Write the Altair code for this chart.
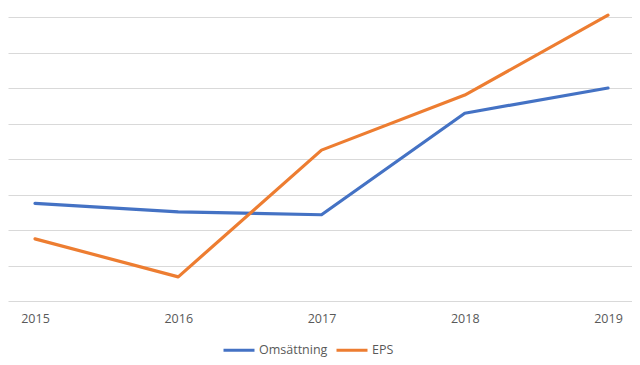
import altair as alt
import pandas as pd

years = [2015, 2016, 2017, 2018, 2019]
omsattning = [2.75, 2.51, 2.43, 5.29, 6.0]
eps = [1.75, 0.68, 4.25, 5.80, 8.05]
series_names = ["Omsättning", "EPS"]
series_colors = ["#4472C4", "#ED7D31"]
grid_values = [0, 1, 2, 3, 4, 5, 6, 7, 8]

df = pd.DataFrame({"year": years * 2,
                   "value": omsattning + eps,
                   "series": [series_names[0]] * 5 + [series_names[1]] * 5})

font = "Open Sans"

chart = alt.Chart(df).mark_line(strokeWidth=3.2, strokeCap="round", strokeJoin="round", clip=False).encode(
    x=alt.X("year:Q",
            scale=alt.Scale(domain=[2014.8115, 2019.1675], nice=False, zero=False),
            axis=alt.Axis(values=years, format="d", title=None, grid=False, ticks=False,
                          domain=False, labelColor="#595959", labelFont=font, labelFontSize=12.5,
                          labelPadding=11, labelOverlap=False, labelBound=False, labelFlush=False)),
    y=alt.Y("value:Q",
            scale=alt.Scale(domain=[0, 8], nice=False, zero=True),
            axis=alt.Axis(values=grid_values, labels=False, ticks=False, domain=False, title=None,
                          grid=True, gridColor="#D9D9D9", gridWidth=1)),
    color=alt.Color("series:N",
                    scale=alt.Scale(domain=series_names, range=series_colors),
                    legend=alt.Legend(title=None, orient="none", legendX=214, legendY=316,
                                      padding=0, direction="horizontal", symbolType="stroke",
                                      symbolStrokeWidth=3, symbolSize=961, labelOffset=3,
                                      columnPadding=2, labelColor="#595959", labelFont=font,
                                      labelFontSize=12.5)),
    detail="series:N",
).properties(
    width=624, height=284,
    autosize=alt.AutoSizeParams(type="none"),
    padding={"left": 0, "top": 9, "right": 0, "bottom": 56},
).configure(background="white").configure_view(stroke=None, strokeWidth=0)

chart.save("out.html", embed_options={"renderer": "svg", "actions": False})
